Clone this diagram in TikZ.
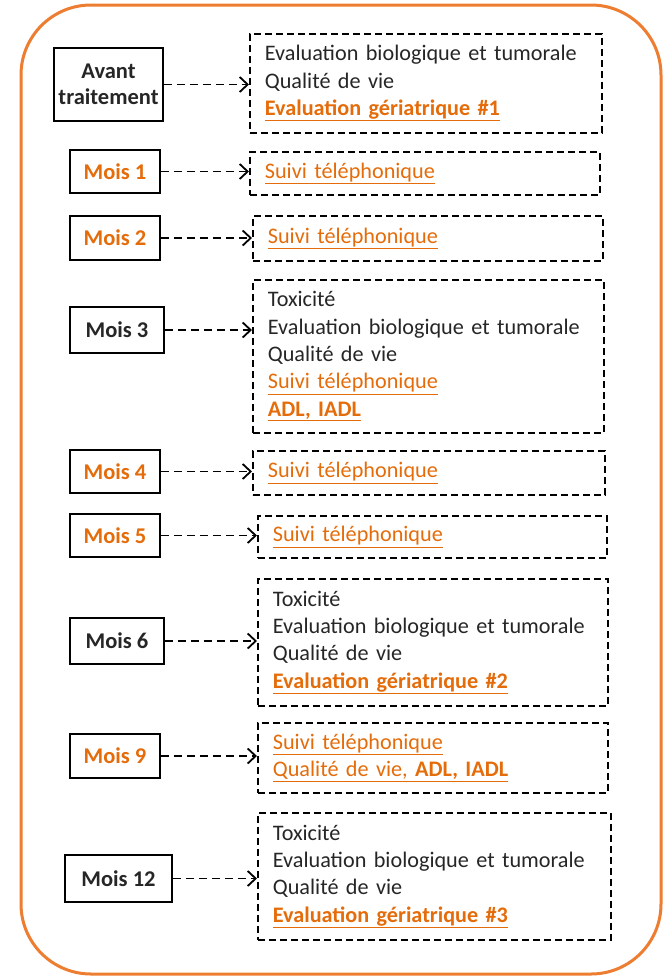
\documentclass[tikz,border=0pt]{standalone}
\usepackage{fontspec}
\setmainfont{Carlito}
\usetikzlibrary{arrows.meta}
\definecolor{org}{HTML}{ED7D31}
\definecolor{orgtxt}{HTML}{E46C0A}
\definecolor{dk}{HTML}{262626}
\newcommand{\ou}[1]{\textcolor{orgtxt}{\underline{#1}}}
\newcommand{\oub}[1]{\textcolor{orgtxt}{\underline{\textbf{#1}}}}
\begin{document}
\begin{tikzpicture}[x=1pt,y=-1pt,
  lbox/.style={draw=black, line width=1.8pt, fill=white, inner sep=0pt, align=center,
     font=\fontsize{22.5}{26.5}\selectfont\bfseries, text=dk},
  rbox/.style={draw=black, line width=1.8pt, dash pattern=on 7pt off 4pt, anchor=north west,
     inner xsep=15pt, inner ysep=0pt, align=left, text=dk,
     font=\fontsize{22.2}{27.3}\selectfont},
  conn/.style={line width=1.8pt, dash pattern=on 8pt off 5pt, -{Straight Barb[length=8pt,width=15pt,line width=1.8pt]}}
]
\useasboundingbox (0,0) rectangle (669,978);
\draw[org, line width=3pt, rounded corners=70pt] (21,5) rectangle (661,974);

% left boxes
\node[lbox, minimum width=109, minimum height=73] (a0) at (108.5,84.5) {Avant\\traitement};
\node[lbox, minimum width=90, minimum height=43, text=orgtxt] (a1) at (115,171.5) {Mois 1};
\node[lbox, minimum width=90, minimum height=44, text=orgtxt] (a2) at (115,238) {Mois 2};
\node[lbox, minimum width=94, minimum height=46] (a3) at (117,330) {Mois 3};
\node[lbox, minimum width=90, minimum height=43, text=orgtxt] (a4) at (115,471.5) {Mois 4};
\node[lbox, minimum width=90, minimum height=43, text=orgtxt] (a5) at (115,535.5) {Mois 5};
\node[lbox, minimum width=94, minimum height=46] (a6) at (117,641) {Mois 6};
\node[lbox, minimum width=90, minimum height=44, text=orgtxt] (a7) at (115,756) {Mois 9};
\node[lbox, minimum width=107, minimum height=47] (a8) at (118.5,878.5) {Mois 12};

% right boxes
\node[rbox, minimum height=99, text width=322] (b0) at (249,33)
  {Evaluation biologique et tumorale\\Qualité de vie\\\oub{Evaluation gériatrique \#1}};
\node[rbox, minimum height=43, text width=320] (b1) at (249,151) {\ou{Suivi téléphonique}};
\node[rbox, minimum height=45, text width=320] (b2) at (252,215) {\ou{Suivi téléphonique}};
\node[rbox, minimum height=153, text width=321] (b3) at (252,279)
  {Toxicité\\Evaluation biologique et tumorale\\Qualité de vie\\\ou{Suivi téléphonique}\\\oub{ADL, IADL}};
\node[rbox, minimum height=44, text width=322] (b4) at (252,450) {\ou{Suivi téléphonique}};
\node[rbox, minimum height=42, text width=319] (b5) at (257,515) {\ou{Suivi téléphonique}};
\node[rbox, minimum height=127, text width=320] (b6) at (257,578)
  {Toxicité\\Evaluation biologique et tumorale\\Qualité de vie\\\oub{Evaluation gériatrique \#2}};
\node[rbox, minimum height=70, text width=320] (b7) at (257,722)
  {\ou{Suivi téléphonique}\\\ou{Qualité de vie, \textbf{ADL, IADL}}};
\node[rbox, minimum height=127, text width=323] (b8) at (257,812)
  {Toxicité\\Evaluation biologique et tumorale\\Qualité de vie\\\oub{Evaluation gériatrique \#3}};

% connectors
\foreach \i in {0,...,8}{
  \draw[conn] (a\i.east) -- (a\i.east -| b\i.west);
}
\end{tikzpicture}
\end{document}
